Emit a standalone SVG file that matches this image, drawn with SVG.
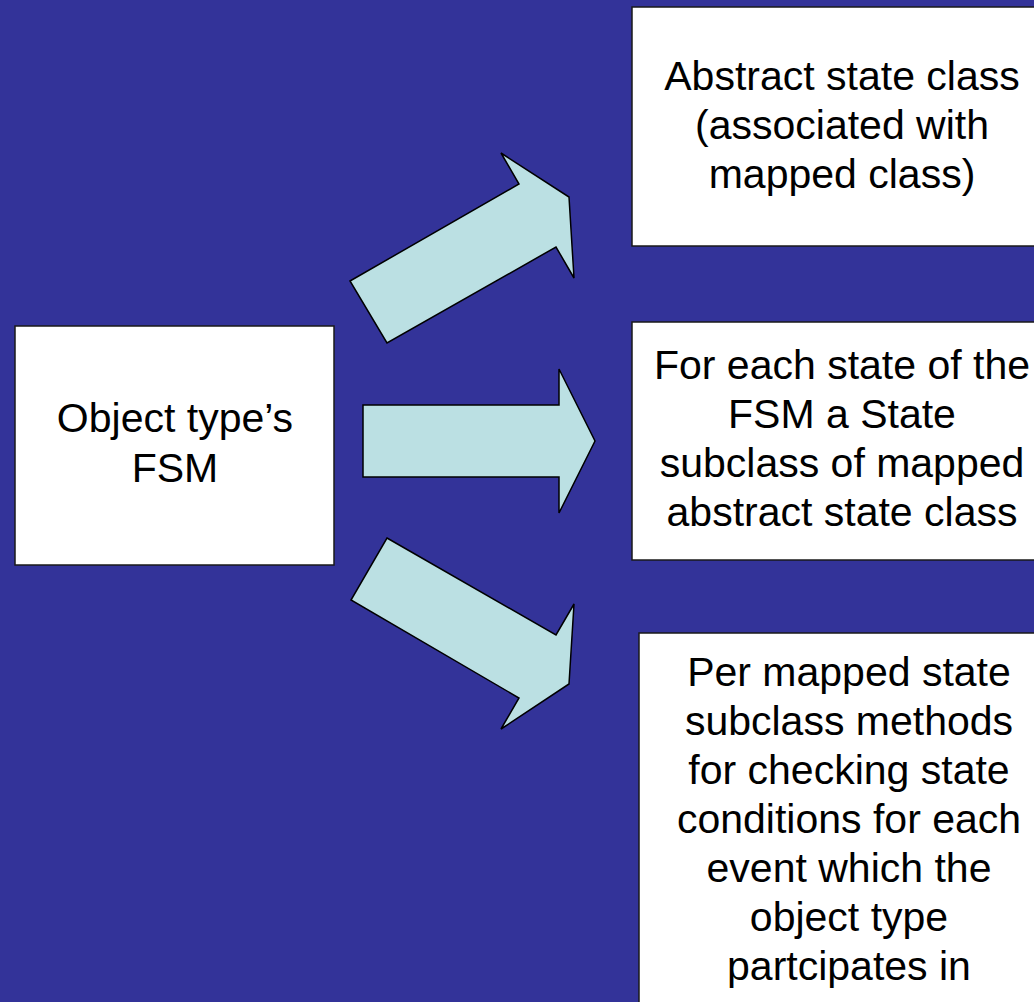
<svg xmlns="http://www.w3.org/2000/svg" width="1034" height="1002" viewBox="0 0 1034 1002">
  <style>
    .box { fill: #ffffff; stroke: #1a1a1a; stroke-width: 1.5; }
    .arrow { fill: #bbe0e3; stroke: #000000; stroke-width: 1.5; stroke-linejoin: miter; }
    .label { font-family: "Liberation Sans", Arial, sans-serif; font-size: 41px; fill: #000000; text-anchor: middle; }
  </style>
  <rect x="0" y="0" width="1034" height="1002" fill="#333399"/>

  <g id="connectors">
    <polygon class="arrow" points="350,281 519,184 501,153 569,197 574,278 556,247 387,343"/>
    <polygon class="arrow" points="363,405 559,405 559,369 595,441 559,513 559,477 363,477"/>
    <polygon class="arrow" points="387,538 556,635 574,604 569,684 501,729 519,698 351,600"/>
  </g>

  <g id="fsm">
    <rect class="box" x="15" y="326" width="319" height="239"/>
    <text class="label" x="175" y="432">Object type’s</text>
    <text class="label" x="175" y="482">FSM</text>
  </g>

  <g id="abstract-state">
    <rect class="box" x="632" y="7" width="420" height="239"/>
    <text class="label" x="842" y="90">Abstract state class</text>
    <text class="label" x="842" y="139">(associated with</text>
    <text class="label" x="842" y="188">mapped class)</text>
  </g>

  <g id="state-subclass">
    <rect class="box" x="632" y="322" width="420" height="238"/>
    <text class="label" x="842" y="379">For each state of the</text>
    <text class="label" x="842" y="428">FSM a State</text>
    <text class="label" x="842" y="477">subclass of mapped</text>
    <text class="label" x="842" y="526">abstract state class</text>
  </g>

  <g id="check-methods">
    <rect class="box" x="639" y="633" width="420" height="380"/>
    <text class="label" x="849" y="686">Per mapped state</text>
    <text class="label" x="849" y="735">subclass methods</text>
    <text class="label" x="849" y="784">for checking state</text>
    <text class="label" x="849" y="833">conditions for each</text>
    <text class="label" x="849" y="882">event which the</text>
    <text class="label" x="849" y="931">object type</text>
    <text class="label" x="849" y="980">partcipates in</text>
  </g>
</svg>
